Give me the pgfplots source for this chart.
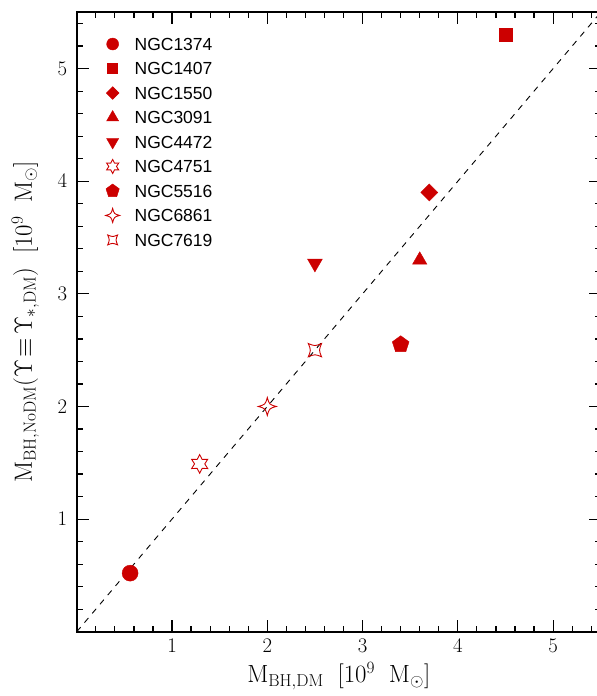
\documentclass[border=0pt]{standalone}
\usepackage[no-math]{fontspec}
\usepackage{pgfplots}
\pgfplotsset{compat=1.18}
\newfontfamily\legfont{Liberation Sans}
\definecolor{ptred}{RGB}{204,0,0}

% open six-pointed star
\pgfdeclareplotmark{star6}{%
  \pgfpathmoveto{\pgfpointpolar{90}{\pgfplotmarksize}}%
  \pgfpathlineto{\pgfpointpolar{120}{0.55\pgfplotmarksize}}%
  \pgfpathlineto{\pgfpointpolar{150}{\pgfplotmarksize}}%
  \pgfpathlineto{\pgfpointpolar{180}{0.55\pgfplotmarksize}}%
  \pgfpathlineto{\pgfpointpolar{210}{\pgfplotmarksize}}%
  \pgfpathlineto{\pgfpointpolar{240}{0.55\pgfplotmarksize}}%
  \pgfpathlineto{\pgfpointpolar{270}{\pgfplotmarksize}}%
  \pgfpathlineto{\pgfpointpolar{300}{0.55\pgfplotmarksize}}%
  \pgfpathlineto{\pgfpointpolar{330}{\pgfplotmarksize}}%
  \pgfpathlineto{\pgfpointpolar{0}{0.55\pgfplotmarksize}}%
  \pgfpathlineto{\pgfpointpolar{30}{\pgfplotmarksize}}%
  \pgfpathlineto{\pgfpointpolar{60}{0.55\pgfplotmarksize}}%
  \pgfpathclose\pgfusepathqstroke}
% open four-pointed star with concave sides
\pgfdeclareplotmark{star4}{%
  \pgfpathmoveto{\pgfpoint{\pgfplotmarksize}{0pt}}%
  \pgfpathcurveto{\pgfpoint{0.22\pgfplotmarksize}{0.22\pgfplotmarksize}}{\pgfpoint{0.22\pgfplotmarksize}{0.22\pgfplotmarksize}}{\pgfpoint{0pt}{\pgfplotmarksize}}%
  \pgfpathcurveto{\pgfpoint{-0.22\pgfplotmarksize}{0.22\pgfplotmarksize}}{\pgfpoint{-0.22\pgfplotmarksize}{0.22\pgfplotmarksize}}{\pgfpoint{-\pgfplotmarksize}{0pt}}%
  \pgfpathcurveto{\pgfpoint{-0.22\pgfplotmarksize}{-0.22\pgfplotmarksize}}{\pgfpoint{-0.22\pgfplotmarksize}{-0.22\pgfplotmarksize}}{\pgfpoint{0pt}{-\pgfplotmarksize}}%
  \pgfpathcurveto{\pgfpoint{0.22\pgfplotmarksize}{-0.22\pgfplotmarksize}}{\pgfpoint{0.22\pgfplotmarksize}{-0.22\pgfplotmarksize}}{\pgfpoint{\pgfplotmarksize}{0pt}}%
  \pgfpathclose\pgfusepathqstroke}
% open square with pinched sides
\pgfdeclareplotmark{pinch}{%
  \pgfpathmoveto{\pgfpoint{0.707\pgfplotmarksize}{0.707\pgfplotmarksize}}%
  \pgfpathcurveto{\pgfpoint{0pt}{0.42\pgfplotmarksize}}{\pgfpoint{0pt}{0.42\pgfplotmarksize}}{\pgfpoint{-0.707\pgfplotmarksize}{0.707\pgfplotmarksize}}%
  \pgfpathcurveto{\pgfpoint{-0.42\pgfplotmarksize}{0pt}}{\pgfpoint{-0.42\pgfplotmarksize}{0pt}}{\pgfpoint{-0.707\pgfplotmarksize}{-0.707\pgfplotmarksize}}%
  \pgfpathcurveto{\pgfpoint{0pt}{-0.42\pgfplotmarksize}}{\pgfpoint{0pt}{-0.42\pgfplotmarksize}}{\pgfpoint{0.707\pgfplotmarksize}{-0.707\pgfplotmarksize}}%
  \pgfpathcurveto{\pgfpoint{0.42\pgfplotmarksize}{0pt}}{\pgfpoint{0.42\pgfplotmarksize}{0pt}}{\pgfpoint{0.707\pgfplotmarksize}{0.707\pgfplotmarksize}}%
  \pgfpathclose\pgfusepathqstroke}

\begin{document}
\begin{tikzpicture}
\begin{axis}[
  name=ax,
  scale only axis,
  width=524.2pt, height=619.7pt,
  xmin=0, xmax=5.5, ymin=0, ymax=5.5,
  xtick={1,2,3,4,5}, ytick={1,2,3,4,5},
  minor xtick={0.2,0.4,...,5.4}, minor ytick={0.2,0.4,...,5.4},
  tick align=inside,
  major tick length=12pt, minor tick length=6pt,
  every tick/.style={black, line width=1.2pt},
  axis line style={line width=1.8pt},
  ticklabel style={font=\fontsize{21}{21}\selectfont},
  xticklabel style={yshift=-4pt},
  yticklabel style={xshift=-6pt},
  label style={font=\fontsize{23}{23}\selectfont},
  xlabel={$\mathrm{M_{BH,DM}}\ \ [10^9\ \ \mathrm{M_\odot}]$},
  ylabel={$\mathrm{M_{BH,NoDM}}(\Upsilon\!\equiv\!\Upsilon_{*,\mathrm{DM}})\ \ [10^9\ \ \mathrm{M_\odot}]$},
  xlabel style={yshift=-3pt},
  ylabel style={yshift=12pt},
  legend style={at={(0,1)}, anchor=north west, xshift=24.9pt, yshift=-19.5pt,
    draw=none, fill=none, inner sep=0pt, outer sep=0pt, row sep=0pt,
    font=\legfont\fontsize{17.5}{17.5}\selectfont,
    nodes={text height=12.5pt, text depth=0pt, inner ysep=6pt, inner xsep=4pt}},
  legend cell align=left,
  legend image code/.code={%
    \path[draw=none, fill=none] (0pt,0pt) -- (29pt,0pt);
    \draw plot coordinates {(11pt,0pt)};},
]
% legend images
\addlegendimage{only marks, ptred, mark=*, mark size=6pt}
\addlegendentry{NGC1374}
\addlegendimage{only marks, ptred, mark=square*, mark size=5pt}
\addlegendentry{NGC1407}
\addlegendimage{only marks, ptred, mark=square*, mark size=4.5pt, mark options={rotate=45}}
\addlegendentry{NGC1550}
\addlegendimage{only marks, ptred, mark=triangle*, mark size=7pt}
\addlegendentry{NGC3091}
\addlegendimage{only marks, ptred, mark=triangle*, mark size=7pt, mark options={rotate=180}}
\addlegendentry{NGC4472}
\addlegendimage{only marks, ptred, mark=star6, mark size=7pt, mark options={line width=0.9pt}}
\addlegendentry{NGC4751}
\addlegendimage{only marks, ptred, mark=pentagon*, mark size=7pt}
\addlegendentry{NGC5516}
\addlegendimage{only marks, ptred, mark=star4, mark size=7pt, mark options={line width=0.9pt}}
\addlegendentry{NGC6861}
\addlegendimage{only marks, ptred, mark=pinch, mark size=7pt, mark options={line width=0.9pt}}
\addlegendentry{NGC7619}

% one-to-one line
\addplot[forget plot, black, line width=0.9pt, dash pattern=on 6pt off 6pt] coordinates {(0,0) (5.5,5.5)};

% data
\addplot[forget plot, only marks, ptred, mark=*, mark size=8pt] coordinates {(0.56,0.52)};
\addplot[forget plot, only marks, ptred, mark=square*, mark size=6.5pt] coordinates {(4.5,5.3)};
\addplot[forget plot, only marks, ptred, mark=square*, mark size=6pt, mark options={rotate=45}] coordinates {(3.7,3.9)};
\addplot[forget plot, only marks, ptred, mark=triangle*, mark size=8.3pt] coordinates {(3.6,3.3)};
\addplot[forget plot, only marks, ptred, mark=triangle*, mark size=8.5pt, mark options={rotate=180}] coordinates {(2.5,3.27)};
\addplot[forget plot, only marks, ptred, mark=star6, mark size=9.3pt, mark options={line width=0.9pt}] coordinates {(1.29,1.49)};
\addplot[forget plot, only marks, ptred, mark=pentagon*, mark size=8.8pt] coordinates {(3.4,2.55)};
\addplot[forget plot, only marks, ptred, mark=star4, mark size=9pt, mark options={line width=0.9pt}] coordinates {(2.0,2.0)};
\addplot[forget plot, only marks, ptred, mark=pinch, mark size=9.4pt, mark options={line width=0.9pt}] coordinates {(2.5,2.5)};
\end{axis}
\pgfresetboundingbox
\useasboundingbox ([xshift=-76.8pt,yshift=-64.3pt]ax.south west) rectangle ([xshift=-4pt,yshift=12.3pt]ax.north east);
\end{tikzpicture}
\end{document}
